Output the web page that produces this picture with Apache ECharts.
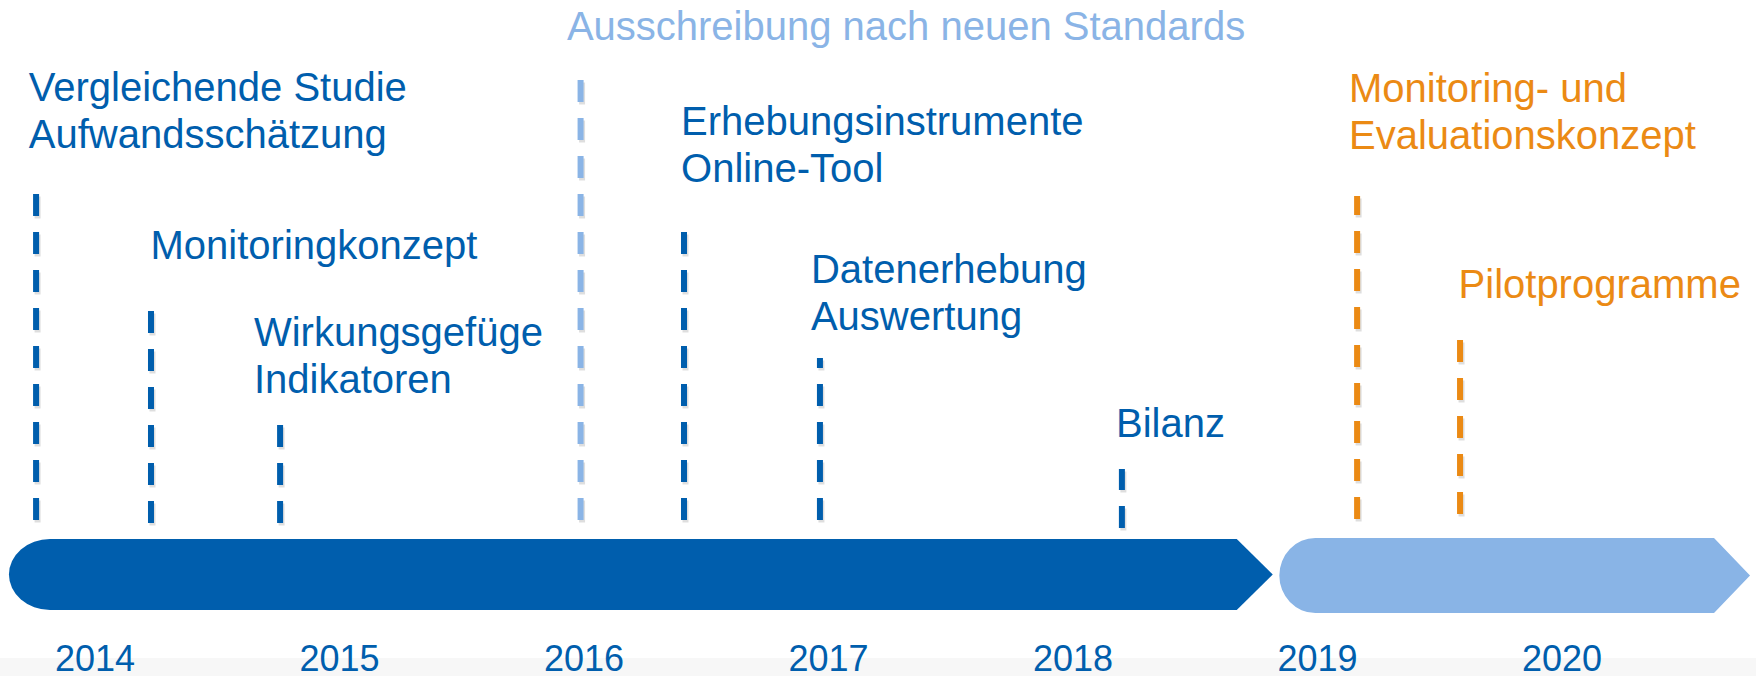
<!DOCTYPE html>
<html>
<head>
<meta charset="utf-8">
<script src="https://cdn.jsdelivr.net/npm/echarts@6/dist/echarts.min.js"></script>
<style>
html,body{margin:0;padding:0;background:#fff;}
#main{width:1756px;height:676px;}
</style>
</head>
<body>
<div id="main"></div>
<script>
// ---- data ----
var yearTicks = [2014, 2015, 2016, 2017, 2018, 2019, 2020];

var phaseNames  = ['Umsetzung', 'Weiterentwicklung'];
var phaseKind   = ['done', 'next'];
var phaseStart  = [2013.648, 2018.844];
var phaseEnd    = [2018.817, 2020.769];
var phaseTop    = [-19, -18];
var phaseBottom = [-90, -93];

var msLabels = [
  'Vergleichende Studie\nAufwandsschätzung',
  'Monitoringkonzept',
  'Wirkungsgefüge\nIndikatoren',
  'Ausschreibung nach neuen Standards',
  'Erhebungsinstrumente\nOnline-Tool',
  'Datenerhebung\nAuswertung',
  'Bilanz',
  'Monitoring- und\nEvaluationskonzept',
  'Pilotprogramme'
];
var msKind     = ['done', 'done', 'done', 'tender', 'done', 'done', 'done', 'plan', 'plan'];
var msYear     = [2013.759, 2014.229, 2014.757, 2015.986, 2016.409, 2016.965, 2018.200, 2019.162, 2019.583];
var msTop      = [327, 209, 95, 441, 288, 162, 51, 324, 180];
var msBottom   = [0, -3, -3, 0, 0, 0, -8, 1, 6];
var labelYear  = [2013.729, 2014.227, 2014.650, 2015.930, 2016.397, 2016.928, 2018.176, 2019.129, 2019.577];
var labelLevel = [372, 261, 127, 480, 338, 190, 83, 371, 222];

// ---- styles ----
var COLORS = { done: '#005EAD', next: '#89B4E6', tender: '#8AB4E6', plan: '#EB8A14' };
var CAP_RX = { done: 41, next: 36 };
var HEAD = 36;
var FONT = '"Liberation Sans", Arial, Helvetica, sans-serif';
var FS = 40, LH = 47;

var phaseData = phaseNames.map(function (n, i) {
  return { name: n, value: [phaseStart[i], phaseEnd[i], phaseTop[i], phaseBottom[i]], kind: phaseKind[i] };
});
var msData = msLabels.map(function (t, i) {
  return { name: t, value: [msYear[i], msTop[i], msBottom[i], labelYear[i], labelLevel[i]], kind: msKind[i] };
});

var chart = echarts.init(document.getElementById('main'), null, { renderer: 'svg', width: 1756, height: 676 });

chart.setOption({
  backgroundColor: '#ffffff',
  animation: false,
  graphic: [{
    type: 'rect', z: -10, silent: true,
    shape: { x: 0, y: 658, width: 1756, height: 18 },
    style: { fill: '#f7f7f7' }
  }],
  grid: { left: 95, right: 194, top: 0, bottom: 40, containLabel: false },
  xAxis: {
    type: 'value', min: 2014, max: 2020, interval: 1,
    axisLine: { show: false }, axisTick: { show: false }, splitLine: { show: false },
    axisLabel: {
      margin: 4, fontSize: 36, color: COLORS.done, fontFamily: FONT,
      formatter: function (v) { return yearTicks.indexOf(v) >= 0 ? String(v) : ''; }
    }
  },
  yAxis: {
    type: 'value', min: -116, max: 520, show: false,
    axisLine: { show: false }, splitLine: { show: false }
  },
  series: [
    {
      type: 'custom', name: 'Phasen', clip: false, z: 2,
      data: phaseData,
      renderItem: function (params, api) {
        var d = phaseData[params.dataIndex];
        var p0 = api.coord([api.value(0), api.value(2)]);
        var p1 = api.coord([api.value(1), api.value(3)]);
        var x0 = p0[0], x1 = p1[0], yt = p0[1], yb = p1[1];
        var ym = (yt + yb) / 2, ry = (yb - yt) / 2, rx = CAP_RX[d.kind];
        var path = 'M' + (x0 + rx) + ' ' + yt +
          ' L' + (x1 - HEAD) + ' ' + yt +
          ' L' + x1 + ' ' + ym +
          ' L' + (x1 - HEAD) + ' ' + yb +
          ' L' + (x0 + rx) + ' ' + yb +
          ' A' + rx + ' ' + ry + ' 0 0 1 ' + (x0 + rx) + ' ' + yt + ' Z';
        return {
          type: 'path',
          shape: { pathData: path },
          style: { fill: COLORS[d.kind] }
        };
      }
    },
    {
      type: 'custom', name: 'Meilensteine', clip: false, z: 3,
      data: msData,
      renderItem: function (params, api) {
        var d = msData[params.dataIndex];
        var col = COLORS[d.kind];
        var top = api.coord([api.value(0), api.value(1)]);
        var bot = api.coord([api.value(0), api.value(2)]);
        var lab = api.coord([api.value(3), api.value(4)]);
        return {
          type: 'group',
          children: [
            {
              type: 'line',
              shape: { x1: bot[0] + 1.5, y1: bot[1] + 2.5, x2: top[0] + 1.5, y2: top[1] + 2.5 },
              style: { stroke: 'rgba(0,0,0,0.13)', lineWidth: 6, lineDash: [22, 16], lineCap: 'butt' }
            },
            {
              type: 'line',
              shape: { x1: bot[0], y1: bot[1], x2: top[0], y2: top[1] },
              style: { stroke: col, lineWidth: 6, lineDash: [22, 16], lineCap: 'butt' }
            },
            {
              type: 'text',
              style: {
                text: d.name, x: lab[0], y: lab[1] + (LH / 2 - 0.3465 * FS),
                fill: col, fontSize: FS, lineHeight: LH, fontFamily: FONT,
                align: 'left', verticalAlign: 'bottom'
              }
            }
          ]
        };
      }
    }
  ]
});
</script>
</body>
</html>
